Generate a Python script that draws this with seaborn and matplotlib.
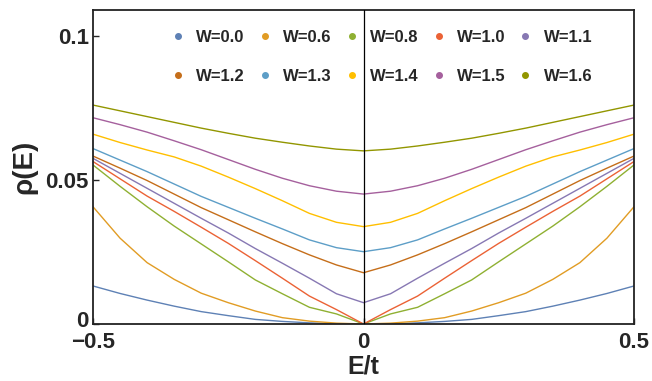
import numpy as np
import pandas as pd
import matplotlib
matplotlib.use("Agg")
import matplotlib.pyplot as plt
import matplotlib.transforms as mtrans
import seaborn as sns
from matplotlib.lines import Line2D

# Energy grid (half; curves are symmetric in E)
E_half = [0.0, 0.05, 0.1, 0.15, 0.2, 0.25, 0.3, 0.35, 0.4, 0.45, 0.5]
W_labels = ["W=0.0", "W=0.6", "W=0.8", "W=1.0", "W=1.1",
            "W=1.2", "W=1.3", "W=1.4", "W=1.5", "W=1.6"]
rho_W00 = [0.0, 0.0000, 0.0004, 0.0009, 0.0016, 0.0029, 0.0043, 0.0062, 0.0083, 0.0106, 0.0132]
rho_W06 = [0.0, 0.0003, 0.0010, 0.0022, 0.0045, 0.0074, 0.0107, 0.0155, 0.0213, 0.0298, 0.0407]
rho_W08 = [0.0, 0.0035, 0.0058, 0.0105, 0.0153, 0.0216, 0.0278, 0.0340, 0.0407, 0.0478, 0.0552]
rho_W10 = [0.0, 0.0050, 0.0097, 0.0159, 0.0220, 0.0280, 0.0336, 0.0391, 0.0444, 0.0504, 0.0564]
rho_W11 = [0.0074, 0.0105, 0.0159, 0.0211, 0.0262, 0.0316, 0.0367, 0.0419, 0.0471, 0.0523, 0.0575]
rho_W12 = [0.0178, 0.0205, 0.0240, 0.0279, 0.0320, 0.0362, 0.0404, 0.0451, 0.0498, 0.0541, 0.0583]
rho_W13 = [0.0251, 0.0265, 0.0292, 0.0330, 0.0367, 0.0405, 0.0443, 0.0486, 0.0529, 0.0569, 0.0609]
rho_W14 = [0.0338, 0.0353, 0.0384, 0.0428, 0.0470, 0.0510, 0.0548, 0.0580, 0.0604, 0.0630, 0.0659]
rho_W15 = [0.0451, 0.0461, 0.0480, 0.0506, 0.0537, 0.0571, 0.0605, 0.0636, 0.0666, 0.0692, 0.0716]
rho_W16 = [0.0601, 0.0607, 0.0618, 0.0631, 0.0645, 0.0662, 0.0680, 0.0700, 0.0720, 0.0740, 0.0760]
all_rho = [rho_W00, rho_W06, rho_W08, rho_W10, rho_W11,
           rho_W12, rho_W13, rho_W14, rho_W15, rho_W16]

colors = ["#5E81B5", "#E19C24", "#8FB032", "#EB6235", "#8778B3",
          "#C56E1A", "#5D9EC7", "#FFBF00", "#A5609D", "#929600"]

rows = []
for lab, rho in zip(W_labels, all_rho):
    for e, r in zip(E_half[::-1], rho[::-1]):
        rows.append((lab, -e, r))
    for e, r in zip(E_half[1:], rho[1:]):
        rows.append((lab, e, r))
df = pd.DataFrame(rows, columns=["W", "E", "rho"])

sns.set_style("ticks")
plt.rcParams['font.family'] = ['Liberation Sans', 'DejaVu Sans']
fig = plt.figure(figsize=(6.52, 3.81), dpi=100)
ax = fig.add_axes([93/652, 1-324/381, (634-93)/652, (324-10)/381])

sns.lineplot(data=df, x="E", y="rho", hue="W", hue_order=W_labels,
             palette=colors, linewidth=1.0, sort=False, estimator=None,
             legend=False, ax=ax)

ax.axvline(0, color="black", linewidth=0.9, zorder=5)
ax.set_xlim(-0.5, 0.5)
ax.set_ylim(0, 0.109)
ax.set_xticks([-0.5, 0, 0.5])
ax.set_xticklabels(["\u22120.5", "0", "0.5"], fontsize=16, fontweight="bold")
ax.set_yticks([0, 0.05, 0.1])
ax.set_yticklabels(["0", "0.05", "0.1"], fontsize=16, fontweight="bold")
ax.tick_params(direction="in", length=4, width=1, pad=3)
ax.tick_params(axis="x", pad=5.5)
# nudge the y "0" label up a little so it only touches the x label
lab0 = ax.get_yticklabels()[0]
lab0.set_transform(lab0.get_transform() +
                   mtrans.ScaledTranslation(0, 5/100, fig.dpi_scale_trans))
for s in ax.spines.values():
    s.set_linewidth(1.3)
    s.set_color("#222222")
ax.set_xlabel("E/t", fontsize=18, fontweight="bold", labelpad=1)
ax.set_ylabel("\u03c1(E)", fontsize=20, fontweight="bold", labelpad=6)

handles = [Line2D([0], [0], marker="o", linestyle="none", markersize=4,
                  markerfacecolor=c, markeredgecolor=c) for c in colors]
order = [0, 5, 1, 6, 2, 7, 3, 8, 4, 9]
leg = ax.legend([handles[i] for i in order], [W_labels[i] for i in order],
                ncol=5, loc="upper left",
                bbox_to_anchor=(171.5/652, 1-30/381),
                bbox_transform=fig.transFigure,
                frameon=False, prop={"weight": "bold", "size": 12},
                borderpad=0, borderaxespad=0,
                handlelength=0.8, handletextpad=0.69, columnspacing=0.8,
                labelspacing=1.45)

fig.savefig("out.png", dpi=100)
